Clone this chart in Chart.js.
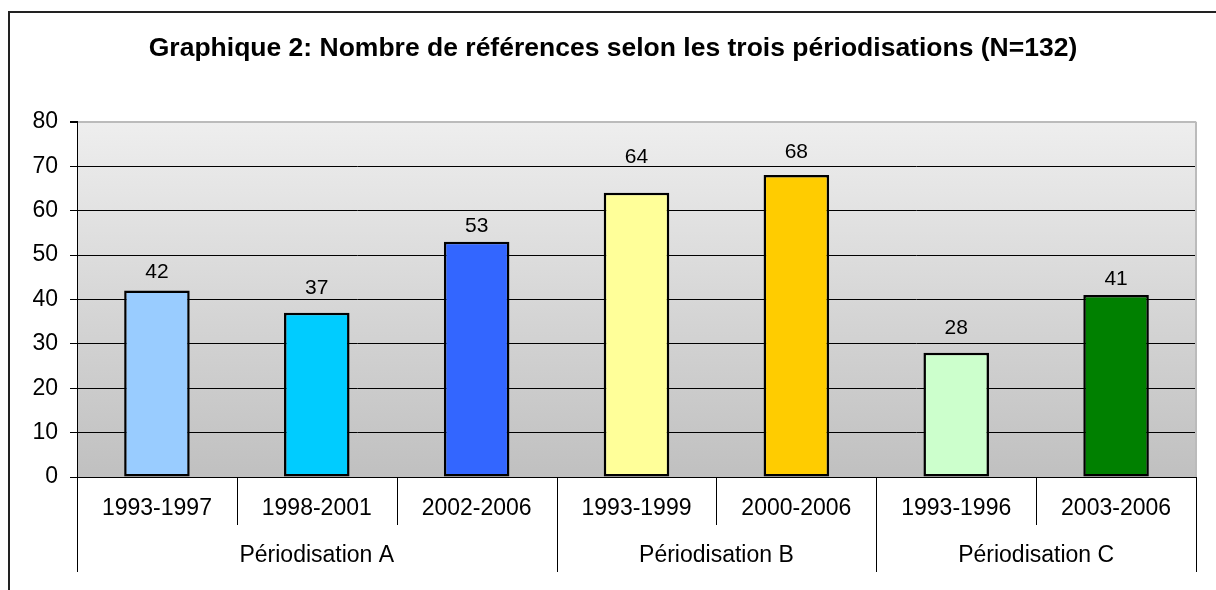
<!DOCTYPE html>
<html lang="fr">
<head>
<meta charset="utf-8">
<title>Graphique 2</title>
<script src="https://cdn.jsdelivr.net/npm/chart.js@4"></script>
<style>
  html, body { margin: 0; padding: 0; background: #fff; }
  canvas { display: block; }
</style>
</head>
<body>
<canvas id="chart" width="1216" height="590"></canvas>
<script>
// -- DATA --
const categories = ["1993-1997", "1998-2001", "2002-2006", "1993-1999", "2000-2006", "1993-1996", "2003-2006"];
const references = [42, 37, 53, 64, 68, 28, 41];
const groupNames = ["Périodisation A", "Périodisation B", "Périodisation C"];
const groupSizes = [3, 2, 2];
const yMax = 80;
const yStep = 10;

// -- STYLE --
const barColors = ["#99ccff", "#00ccff", "#3366ff", "#ffff99", "#ffcc00", "#ccffcc", "#008000"];
const labelLift = [18, 25, 15, 36, 23, 24, 16]; // value labels were hand placed in the original
const FONT = "'Liberation Sans', Arial, sans-serif";

// Frame + plot background (gradient) before anything else
const backgroundPlugin = {
  id: "background",
  beforeDraw(chart) {
    const { ctx, chartArea: a } = chart;
    ctx.save();
    ctx.strokeStyle = "#222";
    ctx.lineWidth = 2;
    ctx.strokeRect(9, 12, 1400, 800);
    const grad = ctx.createLinearGradient(0, a.top, 0, a.bottom);
    grad.addColorStop(0, "#eeeeee");
    grad.addColorStop(1, "#c0c0c0");
    ctx.fillStyle = grad;
    ctx.fillRect(a.left, a.top, a.right - a.left, a.bottom - a.top);
    ctx.restore();
  },
  beforeDatasetsDraw(chart) {
    const { ctx, chartArea: a } = chart;
    ctx.save();
    ctx.strokeStyle = "#bbbbbb";
    ctx.lineWidth = 2;
    ctx.beginPath();
    ctx.moveTo(a.right, a.top);
    ctx.lineTo(a.right, a.bottom);
    ctx.stroke();
    ctx.restore();
  },
};

// Category labels, group labels and separators under the axis
const axisPlugin = {
  id: "groupAxis",
  afterDraw(chart) {
    const { ctx, chartArea: a } = chart;
    const x = chart.scales.x;
    ctx.save();
    ctx.strokeStyle = "#000";
    ctx.lineWidth = 1;

    // group boundaries (in category index units)
    const groupEdges = [0];
    groupSizes.forEach((n, i) => groupEdges.push(groupEdges[i] + n));

    for (let k = 0; k <= categories.length; k++) {
      const px = Math.round(x.getPixelForValue(k - 0.5)) + 0.5;
      const long = groupEdges.includes(k);
      ctx.beginPath();
      ctx.moveTo(px, a.bottom);
      ctx.lineTo(px, long ? a.bottom + 95 : a.bottom + 48);
      ctx.stroke();
    }

    ctx.fillStyle = "#000";
    ctx.textAlign = "center";
    ctx.textBaseline = "middle";
    ctx.font = "23px " + FONT;
    categories.forEach((c, i) => {
      ctx.fillText(c, x.getPixelForValue(i), a.bottom + 32);
    });

    groupNames.forEach((g, i) => {
      const mid = (groupEdges[i] + groupEdges[i + 1]) / 2 - 0.5;
      ctx.fillText(g, x.getPixelForValue(mid), a.bottom + 79);
    });
    ctx.restore();
  },
};

// Value labels above the bars
const valuePlugin = {
  id: "values",
  afterDatasetsDraw(chart) {
    const { ctx } = chart;
    const meta = chart.getDatasetMeta(0);
    ctx.save();
    ctx.fillStyle = "#000";
    ctx.textAlign = "center";
    ctx.textBaseline = "middle";
    ctx.font = "21px " + FONT;
    meta.data.forEach((bar, i) => {
      ctx.fillText(String(references[i]), bar.x, bar.y - labelLift[i]);
    });
    ctx.restore();
  },
};

new Chart(document.getElementById("chart"), {
  type: "bar",
  data: {
    labels: categories,
    datasets: [
      {
        data: references,
        backgroundColor: barColors,
        borderColor: "#000",
        borderWidth: 2.5,
        borderSkipped: false,
        barPercentage: 0.41,
        categoryPercentage: 1,
      },
    ],
  },
  options: {
    responsive: false,
    animation: false,
    devicePixelRatio: 1,
    layout: { padding: { left: 30, right: 20, top: 0, bottom: 0 } },
    plugins: {
      legend: { display: false },
      tooltip: { enabled: false },
      title: {
        display: true,
        text: "Graphique 2: Nombre de références selon les trois périodisations (N=132)",
        color: "#000",
        font: { family: FONT, size: 26.5, weight: "bold", lineHeight: 1.2 },
        padding: { top: 33, bottom: 57 },
      },
    },
    scales: {
      x: {
        grid: { display: false },
        border: { display: true, color: "#000", width: 1 },
        ticks: { display: false },
        afterFit(scale) {
          scale.height = 113;
        },
      },
      y: {
        min: 0,
        max: yMax,
        ticks: {
          stepSize: yStep,
          color: "#000",
          padding: 12,
          font: { family: FONT, size: 23 },
        },
        grid: {
          color: (c) => (c.tick && c.tick.value === yMax ? "#bbbbbb" : "#000"),
          lineWidth: (c) => (c.tick && c.tick.value === yMax ? 2 : 1),
          tickColor: "#000",
          tickLength: 7,
        },
        border: { display: true, color: "#000", width: 1 },
        afterFit(scale) {
          scale.width = 47;
        },
      },
    },
  },
  plugins: [backgroundPlugin, axisPlugin, valuePlugin],
});
</script>
</body>
</html>
